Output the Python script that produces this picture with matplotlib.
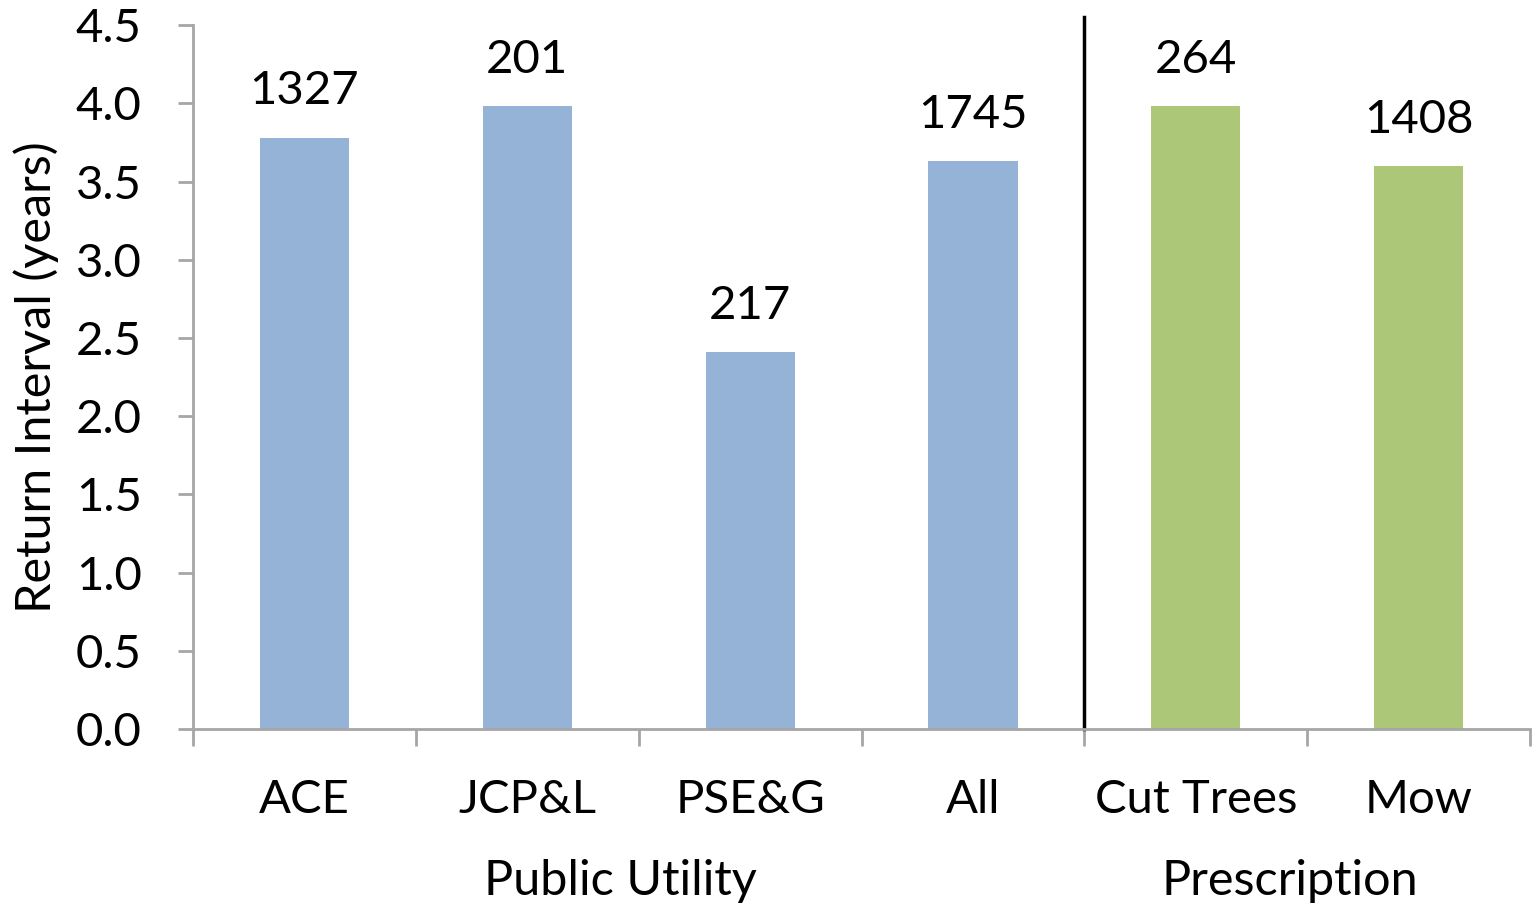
import matplotlib

matplotlib.use("Agg")
import matplotlib.pyplot as plt
from matplotlib.transforms import blended_transform_factory

categories = ["ACE", "JCP&L", "PSE&G", "All", "Cut Trees", "Mow"]
return_interval = [3.78, 3.98, 2.41, 3.63, 3.98, 3.60]
counts = ["1327", "201", "217", "1745", "264", "1408"]
groups = ["Public Utility", "Prescription"]
group_sizes = [4, 2]
yticks = [0.0, 0.5, 1.0, 1.5, 2.0, 2.5, 3.0, 3.5, 4.0, 4.5]

BLUE = "#95B3D7"
GREEN = "#ADC778"
GREY = "#A6A6A6"
FS = 34

plt.rcParams["font.family"] = ["Lato", "DejaVu Sans"]

fig = plt.figure(figsize=(15.32, 9.07), dpi=100)
ax = fig.add_axes([0.126, 0.196, 0.8727, 0.7764])

colors = [BLUE] * group_sizes[0] + [GREEN] * group_sizes[1]
x = list(range(len(categories)))
ax.bar(x, return_interval, width=0.4, color=colors)

for xi, v, c in zip(x, return_interval, counts):
    ax.annotate(c, (xi, v), xytext=(0, 24), textcoords="offset points",
                ha="center", va="baseline", fontsize=FS)

ax.set_xlim(-0.5, len(categories) - 0.5)
ax.set_ylim(0, 4.5)
ax.set_yticks(yticks)
ax.set_yticklabels([f"{t:.1f}" for t in yticks])
ax.set_xticks([i - 0.5 for i in range(len(categories) + 1)])
ax.set_xticklabels([])
ax.tick_params(axis="both", direction="out", length=11, width=2, color=GREY,
               labelsize=FS)
ax.tick_params(axis="y", pad=26)
ax.tick_params(axis="x", length=12)

for s in ["top", "right"]:
    ax.spines[s].set_visible(False)
for s in ["left", "bottom"]:
    ax.spines[s].set_color(GREY)
    ax.spines[s].set_linewidth(2)

ax.set_ylabel("Return Interval (years)", fontsize=35, labelpad=12)

# category labels and group labels under the axis
trans = blended_transform_factory(ax.transData, ax.transAxes)
for xi, name in zip(x, categories):
    ax.text(xi, -0.1, name, transform=trans, ha="center", va="center",
            fontsize=FS)
start = 0
for g, n in zip(groups, group_sizes):
    center = start + (n - 1) / 2 - 0.08
    ax.text(center, -0.215, g, transform=trans, ha="center", va="center",
            fontsize=35)
    start += n

# divider between groups
ax.plot([3.5, 3.5], [0, 4.55], color="black", lw=2.5, clip_on=False)

fig.savefig("out.png", dpi=100)
